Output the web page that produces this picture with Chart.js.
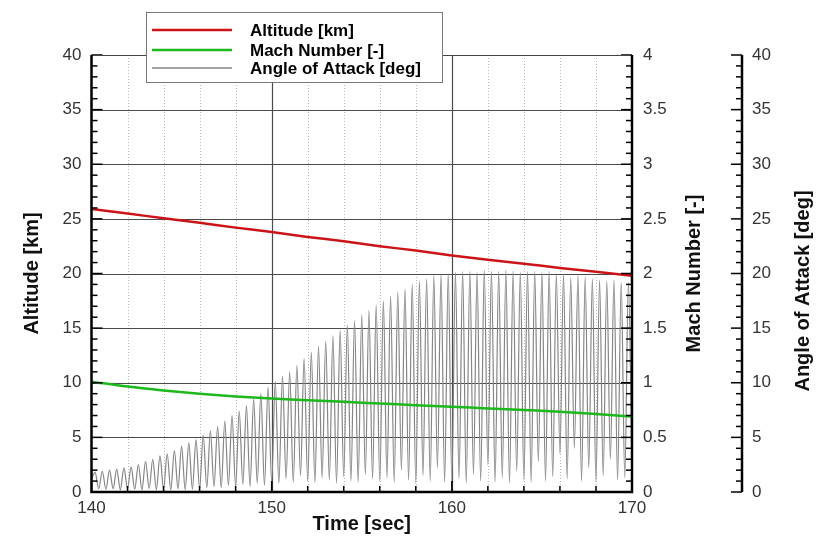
<!DOCTYPE html>
<html>
<head>
<meta charset="utf-8">
<script src="https://cdn.jsdelivr.net/npm/chart.js@4.4.1/dist/chart.umd.min.js"></script>
<style>
    html, body { margin: 0; padding: 0; background: #fff; }
    #wrap { width: 817px; height: 537px; position: relative; }
</style>
</head>
<body>
<div id="wrap"><canvas id="trajChart"></canvas></div>
<script>
// time samples for the smooth curves [sec]
const trajTime = [140, 142, 144, 146, 148, 150, 152, 154, 156, 158, 160, 162, 164, 166, 168, 170];
const altitude = [25.9, 25.5, 25.05, 24.65, 24.2, 23.8, 23.35, 22.95, 22.5, 22.1, 21.65, 21.25, 20.9, 20.5, 20.15, 19.8];
const mach = [1.01, 0.965, 0.93, 0.9, 0.875, 0.855, 0.84, 0.825, 0.81, 0.795, 0.78, 0.765, 0.75, 0.735, 0.715, 0.69];

// angle of attack oscillation: one trough / peak every 0.2 s, starting at 140 s
const aoaStart = 140;
const aoaHalfPeriod = 0.2;
const aoaTroughs = [
    1.2,
    0.3, 0.25, 0.3, 0.2, 0.3, 0.25, 0.2, 0.3, 0.2, 0.25, 0.2, 0.3, 0.2, 0.25,
    0.3,
    0.4, 0.5, 0.4, 0.6, 0.5, 0.7, 0.5, 0.8, 0.6,
    0.9,
    0.8, 1.2, 0.9, 1.5, 1.0, 0.9, 1.3, 1.1, 0.8, 1.4, 1.0, 0.9, 1.6, 1.2,
    1.0,
    1.3, 0.9, 2.0, 1.1, 0.8, 1.5, 1.0, 2.2, 0.9,
    1.0,
    1.2, 0.8, 1.6, 1.0, 2.5, 0.9, 1.3, 0.8, 1.9, 1.1, 0.9, 2.8, 1.0, 1.4,
    3.5,
    1.2, 4.0, 1.0, 2.2, 0.9, 1.5, 3.0, 1.1, 1.3,
    1.5,
];
const aoaPeaks = [
    1.8, 1.9, 2.0, 2.1, 2.2,
    2.3, 2.5, 2.8, 3.0, 3.3,
    3.5, 3.8, 4.2, 4.5, 4.8,
    5.2, 5.6, 6.0, 6.5, 7.0,
    7.4, 7.9, 8.5, 9.0, 9.6,
    10.1, 10.6, 11.0, 11.6, 12.2,
    12.8, 13.3, 13.8, 14.3, 14.8,
    15.3, 15.7, 16.2, 16.6, 17.1,
    17.5, 17.9, 18.3, 18.6, 19.0,
    19.3, 19.5, 19.8, 19.9, 20.0,
    20.1, 20.2, 20.2, 20.1, 20.3,
    20.2, 20.2, 20.3, 20.2, 20.1,
    20.2, 20.2, 20.1, 20.2, 20.0,
    19.9, 19.6, 19.8, 19.7, 19.5,
    19.4, 19.3, 19.4, 19.2, 19.2,
];

const xTicks = [140, 150, 160, 170];
const seriesLabels = ['Altitude [km]', 'Mach Number [-]', 'Angle of Attack [deg]'];
const seriesColors = ['#cc1418', '#1cb81c', '#858585'];

const FONT = "'Liberation Sans', Arial, Helvetica, sans-serif";

const aoaPoints = [];
aoaTroughs.forEach((v, i) => {
    aoaPoints.push({ x: aoaStart + 2 * i * aoaHalfPeriod, y: v });
    if (i < aoaPeaks.length) {
        aoaPoints.push({ x: aoaStart + (2 * i + 1) * aoaHalfPeriod, y: aoaPeaks[i] });
    }
});

const tickFont = { family: FONT, size: 17 };
const titleFont = { family: FONT, size: 20, weight: 'bold' };
const plainNum = v => String(Math.round(v * 10) / 10);

// grid, frame, inward tick marks, right-hand titles and legend box
const framePlugin = {
    id: 'frame',
    beforeDatasetsDraw(chart) {
        const { ctx, chartArea: a, scales } = chart;
        ctx.save();
        for (let t = 142; t < 170; t += 2) {
            const px = Math.round(scales.x.getPixelForValue(t)) + 0.5;
            ctx.beginPath();
            if (t % 10 === 0) {
                ctx.setLineDash([]);
                ctx.strokeStyle = '#4a4a4a';
                ctx.lineWidth = 1.2;
            } else {
                ctx.setLineDash([1, 2]);
                ctx.strokeStyle = '#b8b8b8';
                ctx.lineWidth = 1;
            }
            ctx.moveTo(px, a.top);
            ctx.lineTo(px, a.bottom);
            ctx.stroke();
        }
        ctx.setLineDash([]);
        ctx.strokeStyle = '#4a4a4a';
        ctx.lineWidth = 1.2;
        for (let v = 5; v < 40; v += 5) {
            const py = Math.round(scales.yAlt.getPixelForValue(v)) + 0.5;
            ctx.beginPath();
            ctx.moveTo(a.left, py);
            ctx.lineTo(a.right, py);
            ctx.stroke();
        }
        ctx.restore();
    },
    afterDatasetsDraw(chart) {
        const { ctx, chartArea: a, scales } = chart;
        ctx.save();
        ctx.strokeStyle = '#000';

        const vTicks = (scale, xEdge, dir, count, majorEvery) => {
            ctx.lineWidth = 1.5;
            for (let i = 0; i <= count; i++) {
                const v = scale.min + (scale.max - scale.min) * i / count;
                const py = scale.getPixelForValue(v);
                const len = i % majorEvery === 0 ? 11 : 6;
                ctx.beginPath();
                ctx.moveTo(xEdge, py);
                ctx.lineTo(xEdge + dir * len, py);
                ctx.stroke();
            }
        };
        vTicks(scales.yAlt, a.left, 1, 40, 5);
        vTicks(scales.yMach, a.right, -1, 40, 5);
        const aoaX = scales.yAoa.left;
        vTicks(scales.yAoa, aoaX, -1, 40, 5);

        ctx.lineWidth = 1.5;
        for (let t = 140; t <= 170; t += 2) {
            const px = scales.x.getPixelForValue(t);
            const len = t % 10 === 0 ? 11 : 6;
            ctx.beginPath();
            ctx.moveTo(px, a.bottom);
            ctx.lineTo(px, a.bottom - len);
            ctx.stroke();
        }

        // frame
        ctx.strokeStyle = '#444';
        ctx.lineWidth = 1;
        ctx.beginPath();
        ctx.moveTo(a.left, a.top + 0.5);
        ctx.lineTo(a.right, a.top + 0.5);
        ctx.stroke();
        ctx.strokeStyle = '#000';
        ctx.lineWidth = 2.5;
        ctx.beginPath();
        ctx.moveTo(a.left, a.top);
        ctx.lineTo(a.left, a.bottom);
        ctx.lineTo(a.right, a.bottom);
        ctx.lineTo(a.right, a.top);
        ctx.stroke();
        ctx.beginPath();
        ctx.moveTo(aoaX, a.top);
        ctx.lineTo(aoaX, a.bottom);
        ctx.stroke();
        ctx.restore();
    },
    afterDraw(chart) {
        const { ctx, chartArea: a } = chart;
        ctx.save();
        // right-hand axis titles, reading bottom to top
        ctx.fillStyle = '#111';
        ctx.font = `bold ${titleFont.size}px ${FONT}`;
        ctx.textAlign = 'center';
        ctx.textBaseline = 'middle';
        [[seriesLabels[1], 694, (a.top + a.bottom) / 2], [seriesLabels[2], 803, 291]].forEach(([txt, x, y]) => {
            ctx.save();
            ctx.translate(x, y);
            ctx.rotate(-Math.PI / 2);
            ctx.fillText(txt, 0, 0);
            ctx.restore();
        });

        // legend
        ctx.fillStyle = '#fff';
        ctx.fillRect(146.5, 12.5, 296, 70);
        ctx.strokeStyle = '#777';
        ctx.lineWidth = 1;
        ctx.strokeRect(146.5, 12.5, 296, 70);
        const rows = [30, 50, 68];
        ctx.font = `bold 17px ${FONT}`;
        ctx.textAlign = 'left';
        seriesLabels.forEach((lbl, i) => {
            ctx.strokeStyle = seriesColors[i];
            ctx.lineWidth = i === 2 ? 1.5 : 2.5;
            ctx.beginPath();
            ctx.moveTo(152, rows[i]);
            ctx.lineTo(232, rows[i]);
            ctx.stroke();
            ctx.fillStyle = '#000';
            ctx.fillText(lbl, 250, rows[i] + 1);
        });
        ctx.restore();
    },
};

const noGrid = { display: false, drawTicks: false };

new Chart(document.getElementById('trajChart'), {
    type: 'line',
    data: {
        datasets: [
            {
                label: seriesLabels[0],
                data: trajTime.map((t, i) => ({ x: t, y: altitude[i] })),
                yAxisID: 'yAlt',
                borderColor: seriesColors[0],
                borderWidth: 2.5,
                pointRadius: 0,
                cubicInterpolationMode: 'monotone',
            },
            {
                label: seriesLabels[1],
                data: trajTime.map((t, i) => ({ x: t, y: mach[i] })),
                yAxisID: 'yMach',
                borderColor: seriesColors[1],
                borderWidth: 2.5,
                pointRadius: 0,
                cubicInterpolationMode: 'monotone',
            },
            {
                label: seriesLabels[2],
                data: aoaPoints,
                yAxisID: 'yAoa',
                borderColor: seriesColors[2],
                borderWidth: 1.2,
                pointRadius: 0,
                cubicInterpolationMode: 'monotone',
            },
        ],
    },
    options: {
        responsive: true,
        maintainAspectRatio: false,
        animation: false,
        layout: { padding: { top: 55, left: 0, right: 0, bottom: 0 } },
        plugins: { legend: { display: false }, tooltip: { enabled: false } },
        scales: {
            x: {
                type: 'linear',
                min: 140,
                max: 170,
                afterBuildTicks: s => { s.ticks = xTicks.map(v => ({ value: v })); },
                ticks: { font: tickFont, color: '#333', padding: 6, maxRotation: 0 },
                grid: noGrid,
                border: { display: false },
                title: { display: true, text: 'Time [sec]', font: titleFont, color: '#111', padding: { top: 0, bottom: 1 } },
                afterFit: s => { s.height = 45; },
            },
            yAlt: {
                position: 'left',
                min: 0,
                max: 40,
                ticks: { stepSize: 5, font: tickFont, color: '#333', padding: 10 },
                grid: noGrid,
                border: { display: false },
                title: { display: true, text: seriesLabels[0], font: titleFont, color: '#111', padding: { top: 20, bottom: 0 } },
                afterFit: s => { s.width = 91.5; },
            },
            yMach: {
                position: 'right',
                min: 0,
                max: 4,
                ticks: { stepSize: 0.5, font: tickFont, color: '#333', padding: 11, callback: plainNum },
                grid: noGrid,
                border: { display: false },
                afterFit: s => { s.width = 110; },
            },
            yAoa: {
                position: 'right',
                min: 0,
                max: 40,
                ticks: { stepSize: 5, font: tickFont, color: '#333', padding: 10 },
                grid: noGrid,
                border: { display: false },
                afterFit: s => { s.width = 75; },
            },
        },
    },
    plugins: [framePlugin],
});
</script>
</body>
</html>
